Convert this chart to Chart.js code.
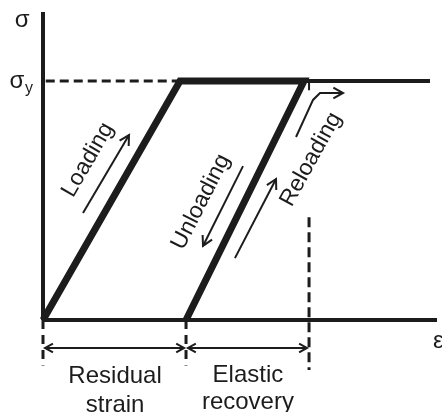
<!DOCTYPE html>
<html>
<head>
<meta charset="utf-8">
<script src="https://cdn.jsdelivr.net/npm/chart.js@4/dist/chart.umd.min.js"></script>
<style>
  body { margin: 0; background: #fff; }
  #wrap { width: 442px; height: 412px; position: relative; }
</style>
</head>
<body>
<div id="wrap"><canvas id="myChart"></canvas></div>
<script>
// strain (x) en unidades de deformacion de fluencia, stress (y) en unidades de sigma_y
var ejeMaxX = 2.876;
var ejeMaxY = 1.289;

// camino carga - fluencia - descarga
var caminoX = [0, 1, 1.905, 1.044];
var caminoY = [0, 1, 1, 0];

// continuacion de la fluencia (recarga)
var fluenciaX = [1.905, 2.825];
var fluenciaY = [1, 1];

// lineas punteadas
var sigmaYX = [0.02, 0.98];
var sigmaYY = [1, 1];
var recargaGuiaX = [1.942, 1.942];
var recargaGuiaY = [0.43, -0.209];
var marcaArribaX = [1.942, 1.942];
var marcaArribaY = [1, 0.962];
var guiaOrigenX = [0, 0];
var guiaOrigenY = [0, -0.19];
var guiaResidualX = [1.044, 1.044];
var guiaResidualY = [0, -0.19];

// cotas
var cotaResidualX = [0.015, 1.03];
var cotaElasticaX = [1.058, 1.927];
var cotaY = [-0.117, -0.117];

// flechas
var flechaCargaX = [0.292, 0.628];
var flechaCargaY = [0.448, 0.774];
var flechaDescargaX = [1.460, 1.168];
var flechaDescargaY = [0.644, 0.310];
var flechaRecargaX = [1.401, 1.701];
var flechaRecargaY = [0.259, 0.590];
var flechaCodoX = [1.847, 1.971, 2.022, 2.190];
var flechaCodoY = [0.766, 0.921, 0.950, 0.950];

var negro = '#1c1c1c';
var fuente = "'Liberation Sans', Arial, sans-serif";

function puntos(xs, ys) {
    var p = [];
    for (var i = 0; i < xs.length; i++) {
        p.push({ x: xs[i], y: ys[i] });
    }
    return p;
}

function linea(xs, ys, ancho, extra) {
    var d = {
        data: puntos(xs, ys),
        showLine: true,
        borderColor: negro,
        borderWidth: ancho,
        pointRadius: 0,
        fill: false,
        tension: 0,
        clip: false,
        borderJoinStyle: 'miter'
    };
    for (var k in extra) d[k] = extra[k];
    return d;
}

var textos = [
    { t: 'σ', x: -0.153, y: 1.226, size: 24, align: 'center', ang: 0 },
    { t: 'σ', x: -0.19, y: 0.971, size: 24, align: 'center', ang: 0 },
    { t: 'y', x: -0.102, y: 0.952, size: 16, align: 'center', ang: 0 },
    { t: 'ε', x: 2.847, y: -0.117, size: 24, align: 'left', ang: 0 },
    { t: 'Residual', x: 0.526, y: -0.262, size: 24, align: 'center', ang: 0 },
    { t: 'strain', x: 0.526, y: -0.386, size: 24, align: 'center', ang: 0 },
    { t: 'Elastic', x: 1.496, y: -0.258, size: 24, align: 'center', ang: 0 },
    { t: 'recovery', x: 1.496, y: -0.372, size: 24, align: 'center', ang: 0 },
    { t: 'Loading', x: 0.328, y: 0.67, size: 23, align: 'center', ang: -60, mid: true },
    { t: 'Unloading', x: 1.153, y: 0.494, size: 23, align: 'center', ang: -63, mid: true },
    { t: 'Reloading', x: 1.956, y: 0.672, size: 23, align: 'center', ang: -61, mid: true }
];

function punta(ctx, x1, y1, x2, y2, largo, abre) {
    var a = Math.atan2(y2 - y1, x2 - x1);
    ctx.beginPath();
    ctx.moveTo(x2 - largo * Math.cos(a - abre), y2 - largo * Math.sin(a - abre));
    ctx.lineTo(x2, y2);
    ctx.lineTo(x2 - largo * Math.cos(a + abre), y2 - largo * Math.sin(a + abre));
    ctx.stroke();
}

var anotaciones = {
    id: 'anotaciones',
    afterDatasetsDraw: function (chart) {
        var ctx = chart.ctx;
        var sx = chart.scales.x, sy = chart.scales.y;
        ctx.save();
        ctx.strokeStyle = negro;
        ctx.lineWidth = 2;
        ctx.lineJoin = 'miter';
        chart.data.datasets.forEach(function (ds) {
            if (!ds.flecha) return;
            var p = ds.data;
            var n = p.length;
            var ax = sx.getPixelForValue(p[n - 2].x), ay = sy.getPixelForValue(p[n - 2].y);
            var bx = sx.getPixelForValue(p[n - 1].x), by = sy.getPixelForValue(p[n - 1].y);
            punta(ctx, ax, ay, bx, by, ds.largo || 10, 0.5);
            if (ds.flecha === 'ambas') {
                var cx = sx.getPixelForValue(p[0].x), cy = sy.getPixelForValue(p[0].y);
                var dx = sx.getPixelForValue(p[1].x), dy = sy.getPixelForValue(p[1].y);
                punta(ctx, dx, dy, cx, cy, ds.largo || 10, 0.5);
            }
        });
        ctx.fillStyle = negro;
        textos.forEach(function (o) {
            var px = sx.getPixelForValue(o.x), py = sy.getPixelForValue(o.y);
            ctx.save();
            ctx.translate(px, py);
            ctx.rotate(o.ang * Math.PI / 180);
            ctx.font = o.size + 'px ' + fuente;
            ctx.textAlign = o.align;
            ctx.textBaseline = o.mid ? 'middle' : 'alphabetic';
            ctx.fillText(o.t, 0, 0);
            ctx.restore();
        });
        ctx.restore();
    }
};

var ctx = document.getElementById('myChart').getContext('2d');
var chart = new Chart(ctx, {
    type: 'scatter',
    data: {
        datasets: [
            linea(caminoX, caminoY, 7),
            linea(fluenciaX, fluenciaY, 4),
            linea([0, 0], [0, ejeMaxY], 4),
            linea([0, ejeMaxX], [0, 0], 4),
            linea(sigmaYX, sigmaYY, 3, { borderDash: [9, 5] }),
            linea(recargaGuiaX, recargaGuiaY, 3, { borderDash: [10, 5] }),
            linea(marcaArribaX, marcaArribaY, 2),
            linea(guiaOrigenX, guiaOrigenY, 3, { borderDash: [9, 6] }),
            linea(guiaResidualX, guiaResidualY, 3, { borderDash: [9, 6] }),
            linea(cotaResidualX, cotaY, 2, { flecha: 'ambas', largo: 9 }),
            linea(cotaElasticaX, cotaY, 2, { flecha: 'ambas', largo: 9 }),
            linea(flechaCargaX, flechaCargaY, 2, { flecha: 'fin', largo: 11 }),
            linea(flechaDescargaX, flechaDescargaY, 2, { flecha: 'fin', largo: 11 }),
            linea(flechaRecargaX, flechaRecargaY, 2, { flecha: 'fin', largo: 11 }),
            linea(flechaCodoX, flechaCodoY, 2, { flecha: 'fin', largo: 11 })
        ]
    },
    options: {
        responsive: true,
        maintainAspectRatio: false,
        animation: false,
        layout: { padding: { left: 43, right: 5, top: 12, bottom: 92 } },
        plugins: { legend: { display: false }, tooltip: { enabled: false } },
        scales: {
            x: { type: 'linear', min: 0, max: ejeMaxX, display: false },
            y: { type: 'linear', min: 0, max: ejeMaxY, display: false }
        }
    },
    plugins: [anotaciones]
});
</script>
</body>
</html>
